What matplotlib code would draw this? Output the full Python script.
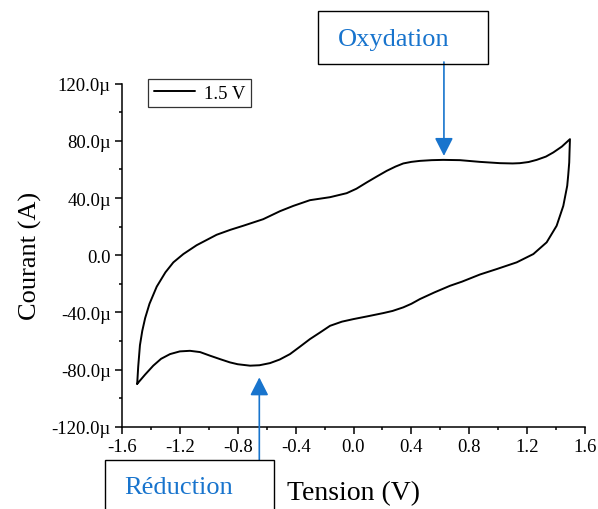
import matplotlib
matplotlib.use("Agg")
import matplotlib.pyplot as plt
from matplotlib.ticker import MultipleLocator, FuncFormatter
from matplotlib.patches import Rectangle

plt.rcParams['font.family'] = ['Liberation Serif', 'DejaVu Serif']
plt.rcParams['axes.unicode_minus'] = False

# forward (upper) branch, V and µA
v_up = [-1.495, -1.488, -1.476, -1.46, -1.44, -1.41, -1.36, -1.30, -1.245, -1.176, -1.084,
        -0.946, -0.85, -0.762, -0.624, -0.508, -0.416, -0.301, -0.162, -0.047, 0.02, 0.091,
        0.16, 0.229, 0.29, 0.344, 0.40, 0.459, 0.54, 0.62, 0.736, 0.874, 1.012, 1.10, 1.15,
        1.21, 1.266, 1.33, 1.381, 1.44, 1.496]
i_up = [-90, -78, -63, -53, -44, -34, -22, -12, -5, 0.8, 7.0,
        14.3, 17.8, 20.6, 25.2, 30.8, 34.5, 38.5, 40.6, 43.4, 46.5, 50.9,
        55, 59.0, 62, 64.2, 65.3, 66.0, 66.5, 66.7, 66.5, 65.3, 64.4, 64.2, 64.4,
        65.2, 66.7, 69, 71.9, 76, 81.2]
# reverse (lower) branch
v_down = [1.493, 1.491, 1.484, 1.477, 1.45, 1.404, 1.335, 1.243, 1.128, 0.99, 0.874,
          0.75, 0.667, 0.56, 0.459, 0.40, 0.344, 0.27, 0.206, 0.10, 0.0, -0.08, -0.162,
          -0.23, -0.301, -0.37, -0.439, -0.51, -0.577, -0.65, -0.715, -0.80, -0.854,
          -0.92, -0.992, -1.06, -1.13, -1.20, -1.268, -1.33, -1.384, -1.44, -1.495]
i_down = [72, 64.9, 56, 48.5, 34.5, 20.6, 9.0, 0.8, -5.0, -9.7, -13.5,
          -18.5, -21.4, -26, -30.7, -34, -36.5, -39, -40.5, -42.7, -44.7, -46.5, -49.4,
          -54, -58.7, -64, -69.2, -73, -75.5, -77, -77.3, -76.3, -75,
          -72.8, -70.3, -67.8, -66.9, -67.3, -69.2, -72.5, -77.3, -83.5, -90]

series_label = "1.5 V"
x_label = "Tension (V)"
y_label = "Courant (A)"
ox_label = "Oxydation"
red_label = "Réduction"
ox_point = (0.625, 69.5)
red_point = (-0.651, -85.5)

W, H = 598, 510
fig = plt.figure(figsize=(W / 100, H / 100), dpi=100)
ax = fig.add_axes([122 / W, 1 - 427.7 / H, 463 / W, (427.7 - 84.7) / H])

v_all = v_up + v_down
i_all = [v * 1e-6 for v in i_up + i_down]
ax.plot(v_all, i_all, color='black', lw=1.4, label=series_label,
        solid_joinstyle='round', solid_capstyle='round')

ax.set_xlim(-1.6, 1.6)
ax.set_ylim(-120e-6, 120e-6)
ax.xaxis.set_major_locator(MultipleLocator(0.4))
ax.xaxis.set_minor_locator(MultipleLocator(0.2))
ax.yaxis.set_major_locator(MultipleLocator(40e-6))
ax.yaxis.set_minor_locator(MultipleLocator(20e-6))
ax.xaxis.set_major_formatter(FuncFormatter(lambda v, p: f"{v:.1f}".replace("-0.0", "0.0")))
def yfmt(v, p):
    u = v * 1e6
    if abs(u) < 1e-9:
        return "0.0"
    return f"{u:.1f}µ"
ax.yaxis.set_major_formatter(FuncFormatter(yfmt))

for s in ['top', 'right']:
    ax.spines[s].set_visible(False)
for s in ['left', 'bottom']:
    ax.spines[s].set_linewidth(1.1)
ax.tick_params(which='major', direction='out', length=5, width=1.1, labelsize=13.5, pad=3)
ax.tick_params(which='minor', direction='out', length=2.5, width=1.1)

ax.set_xlabel(x_label, fontsize=20)
ax.set_ylabel(y_label, fontsize=19, labelpad=7)
ax.xaxis.set_label_coords(0.5, -0.155)

leg = ax.legend(loc='upper left', bbox_to_anchor=(0.056, 1.014), borderaxespad=0,
                fontsize=13.5, frameon=True, fancybox=False, handlelength=2.1,
                borderpad=0.3, handletextpad=0.5, borderaxespad_=None) if False else \
      ax.legend(loc='upper left', bbox_to_anchor=(0.056, 1.014), borderaxespad=0,
                fontsize=13.5, frameon=True, fancybox=False, handlelength=2.2,
                borderpad=0.3, handletextpad=0.5)
leg.get_frame().set_edgecolor('black')
leg.get_frame().set_linewidth(0.9)

blue = '#1874CD'
# Oxydation box
fig.patches.append(Rectangle((318 / W, 1 - 65 / H), 170 / W, 53 / H, transform=fig.transFigure,
                             fill=False, edgecolor='black', lw=1.0))
fig.text(394 / W, 1 - 40 / H, ox_label, color=blue, fontsize=19, ha='center', va='center')
# Réduction box
fig.patches.append(Rectangle((105 / W, 1 - 515 / H), 169 / W, 54 / H, transform=fig.transFigure,
                             fill=False, edgecolor='black', lw=1.0, clip_on=False))
fig.text(179 / W, 1 - 488 / H, red_label, color=blue, fontsize=19, ha='center', va='center')

arrowprops = dict(arrowstyle='-|>,head_length=0.55,head_width=0.28', color=blue, lw=1.2,
                  mutation_scale=20, shrinkA=0, shrinkB=0)
ax.annotate('', xy=(ox_point[0], ox_point[1] * 1e-6), xycoords='data',
            xytext=(ox_point[0], 1 - 63 / H), textcoords=('data', 'figure fraction'),
            arrowprops=arrowprops, annotation_clip=False)
ax.annotate('', xy=(red_point[0], red_point[1] * 1e-6), xycoords='data',
            xytext=(red_point[0], 1 - 460.7 / H), textcoords=('data', 'figure fraction'),
            arrowprops=arrowprops, annotation_clip=False)

fig.savefig('out.png', dpi=100)
